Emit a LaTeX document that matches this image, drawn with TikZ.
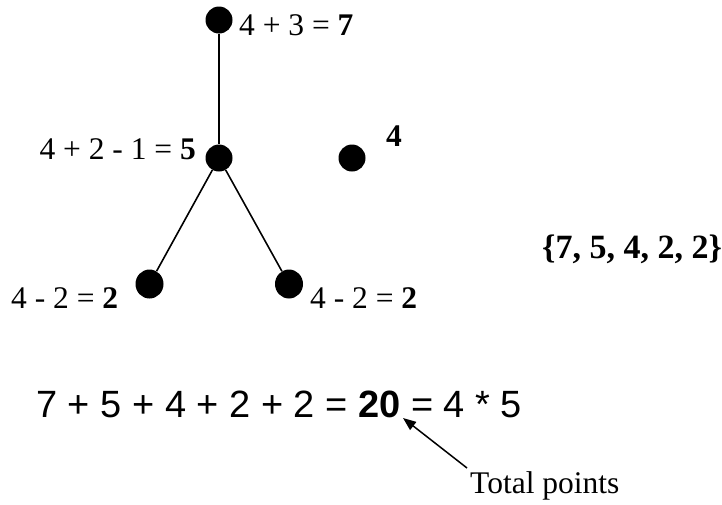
\documentclass[tikz,border=0pt]{standalone}
\usepackage{fontspec}
\setmainfont{Liberation Serif}
\newfontfamily\eqfont{Liberation Sans}
\usetikzlibrary{shapes.geometric,arrows.meta}
\tikzset{
  dot/.style={circle,fill=black,inner sep=0pt,minimum size=27pt},
  lowdot/.style={ellipse,fill=black,inner sep=0pt,minimum width=28pt,minimum height=29pt},
  lbl/.style={inner sep=0pt,font=\fontsize{31.5}{36}\selectfont},
  eq/.style={inner sep=0pt,font=\eqfont\fontsize{38}{44}\selectfont},
  edge/.style={line width=1.6pt},
  pointer/.style={line width=1.5pt,-{Triangle[length=13pt,width=10pt]}}
}
\begin{document}
\begin{tikzpicture}[x=1pt,y=-1pt]
\useasboundingbox (0,0) rectangle (722,504);
% dots
\node[dot] (top) at (219,20) {};
\node[dot] (mid) at (219,158) {};
\node[dot] (right) at (352,158) {};
\node[lowdot] (bl) at (149.5,284) {};
\node[lowdot] (br) at (289,284) {};
% edges
\draw[edge] (top) -- (mid);
\draw[edge] (mid) -- (bl);
\draw[edge] (mid) -- (br);
% labels
\node[lbl,anchor=base west] (ltop) at (239,35) {4 + 3 = \textbf{7}};
\node[lbl,anchor=base east] (lmid) at (196,159) {4 + 2 - 1 = \textbf{5}};
\node[lbl,anchor=base west] (lright) at (386,146) {\textbf{4}};
\node[lbl,anchor=base west] (lbl1) at (11,308) {4 - 2 = \textbf{2}};
\node[lbl,anchor=base west] (lbr) at (310,308) {4 - 2 = \textbf{2}};
\node[lbl,anchor=base west,font=\fontsize{34}{40}\selectfont] (set) at (542,258) {\textbf{\{7, 5, 4, 2, 2\}}};
% equation
\node[eq,anchor=base west] (eqn) at (36,417) {7 + 5 + 4 + 2 + 2 = \textbf{20} = 4 * 5};
\node[lbl,anchor=base west] (tp) at (470,493) {Total points};
\coordinate (tail) at (467,468);
\coordinate (tip) at (403,418);
\draw[pointer] (tail) -- (tip);
\end{tikzpicture}
\end{document}
